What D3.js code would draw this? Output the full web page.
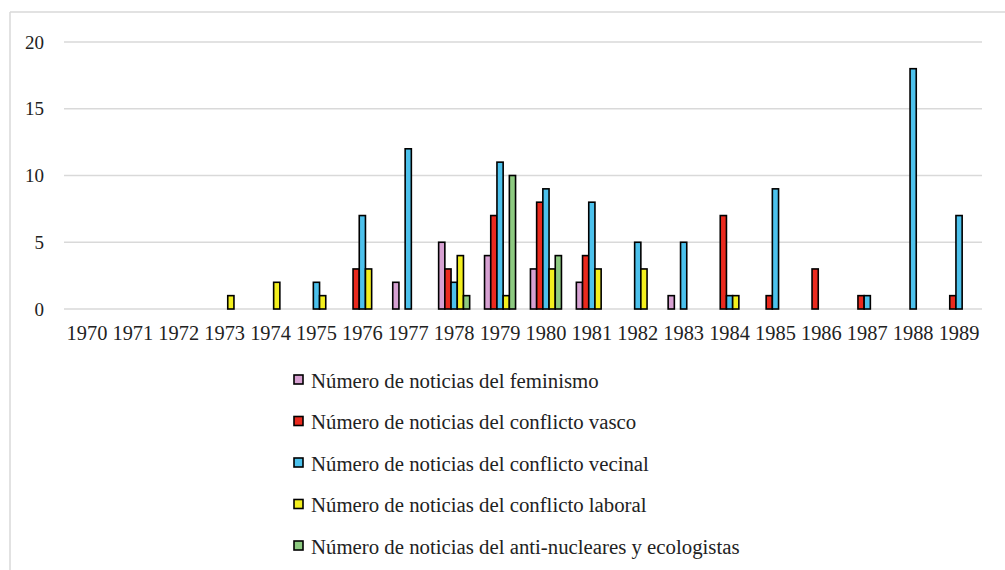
<!DOCTYPE html>
<html>
<head>
<meta charset="utf-8">
<script src="https://cdn.jsdelivr.net/npm/d3@7"></script>
<style>
  body { margin: 0; background: #fff; }
  svg { display: block; font-family: "Liberation Serif", "Times New Roman", serif; }
</style>
</head>
<body>
<svg id="chart" width="1005" height="570"></svg>
<script>
// datos
var years = ["1970","1971","1972","1973","1974","1975","1976","1977","1978","1979",
             "1980","1981","1982","1983","1984","1985","1986","1987","1988","1989"];
var feminismo  = [0,0,0,0,0,0,0,2,5,4,3,2,0,1,0,0,0,0,0,0];
var vasco      = [0,0,0,0,0,0,3,0,3,7,8,4,0,0,7,1,3,1,0,1];
var vecinal    = [0,0,0,0,0,2,7,12,2,11,9,8,5,5,1,9,0,1,18,7];
var laboral    = [0,0,0,1,2,1,3,0,4,1,3,3,3,0,1,0,0,0,0,0];
var ecologistas= [0,0,0,0,0,0,0,0,1,10,4,0,0,0,0,0,0,0,0,0];
var yTicks = [0, 5, 10, 15, 20];

var series = [
  { name: "Número de noticias del feminismo", values: feminismo, color: "#d7a1d2" },
  { name: "Número de noticias del conflicto vasco", values: vasco, color: "#ea2a1e" },
  { name: "Número de noticias del conflicto vecinal", values: vecinal, color: "#4cc1ec" },
  { name: "Número de noticias del conflicto laboral", values: laboral, color: "#f3ef1e" },
  { name: "Número de noticias del anti-nucleares y ecologistas", values: ecologistas, color: "#8dca80" }
];

var svg = d3.select("#chart");

// BORDE EXTERIOR (solo arriba e izquierda visibles)
svg.append("line").attr("x1", 10).attr("x2", 1005).attr("y1", 12).attr("y2", 12)
  .attr("stroke", "#d9d9d9").attr("stroke-width", 1.5);
svg.append("line").attr("x1", 10).attr("x2", 10).attr("y1", 12).attr("y2", 570)
  .attr("stroke", "#d9d9d9").attr("stroke-width", 1.5);

var plotLeft = 64, plotRight = 982, plotTop = 42, plotBottom = 309;

var x = d3.scaleBand().domain(years).range([plotLeft, plotRight]);
var y = d3.scaleLinear().domain([0, 20]).range([plotBottom, plotTop]);
var xs = d3.scaleBand().domain(d3.range(series.length))
  .range([0, x.bandwidth()]).paddingInner(0).paddingOuter(1.2);

// REJILLA
svg.append("g").selectAll("line").data(yTicks).join("line")
  .attr("x1", plotLeft).attr("x2", plotRight)
  .attr("y1", d => y(d)).attr("y2", d => y(d))
  .attr("stroke", "#d9d9d9").attr("stroke-width", 1.5);

// ETIQUETAS EJE Y
svg.append("g").selectAll("text").data(yTicks).join("text")
  .attr("x", 44).attr("y", d => y(d))
  .attr("text-anchor", "end").attr("dominant-baseline", "central")
  .attr("font-size", "19px").attr("fill", "#222")
  .text(d => d);

// ETIQUETAS EJE X
svg.append("g").selectAll("text").data(years).join("text")
  .attr("x", d => x(d) + x.bandwidth() / 2).attr("y", 333)
  .attr("text-anchor", "middle").attr("dominant-baseline", "central")
  .attr("font-size", "20.4px").attr("fill", "#222")
  .text(d => d);

// BARRAS
series.forEach(function (s, si) {
  svg.append("g").selectAll("rect")
    .data(s.values.map((v, i) => ({ year: years[i], v: v })).filter(d => d.v > 0))
    .join("rect")
    .attr("x", d => x(d.year) + xs(si))
    .attr("width", xs.bandwidth())
    .attr("y", d => y(d.v))
    .attr("height", d => y(0) - y(d.v))
    .attr("fill", s.color)
    .attr("stroke", "#000").attr("stroke-width", 1.6);
});

// LEYENDA
var legend = svg.append("g").selectAll("g").data(series).join("g")
  .attr("transform", (d, i) => "translate(294," + (380 + i * 41.5) + ")");
legend.append("rect")
  .attr("x", 0).attr("y", -5).attr("width", 9).attr("height", 9)
  .attr("fill", d => d.color).attr("stroke", "#000").attr("stroke-width", 1.6);
legend.append("text")
  .attr("x", 17).attr("y", 0).attr("dominant-baseline", "central")
  .attr("font-size", "20.8px").attr("fill", "#222")
  .text(d => d.name);
</script>
</body>
</html>
